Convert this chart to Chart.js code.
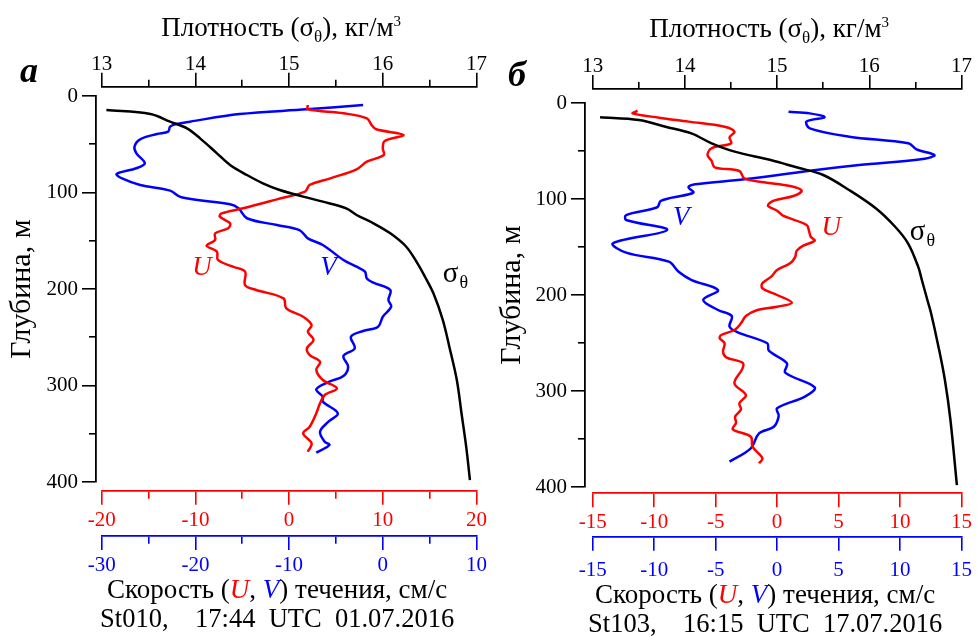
<!DOCTYPE html>
<html><head><meta charset="utf-8">
<script src="https://cdn.jsdelivr.net/npm/chart.js@4/dist/chart.umd.min.js"></script>
<style>
html,body{margin:0;padding:0;background:#fff;}
#wrap{position:relative;width:979px;height:637px;overflow:hidden;}
canvas{position:absolute;top:0;}
</style></head><body>
<div id="wrap">
<canvas id="cA" width="490" height="637" style="left:0px"></canvas>
<canvas id="cB" width="489" height="637" style="left:490px"></canvas>
</div>
<script>
// ---------------- DATA: panel "а" (St010) ----------------
const aSigmaDepth = [14.5, 18.7, 26.6, 33.5, 43.9, 59.4, 71.5, 81.9, 90.5, 97.4, 104.3, 109.5, 116.4, 123.3, 131.9, 142.3, 156.2, 173.4, 187.3, 204.5, 232, 259.8, 294.3, 328.8, 363.4, 398];
const aSigma      = [13.05, 13.52, 13.73, 13.91, 14.05, 14.23, 14.37, 14.55, 14.72, 14.90, 15.15, 15.36, 15.61, 15.72, 15.90, 16.08, 16.25, 16.37, 16.45, 16.54, 16.64, 16.71, 16.79, 16.84, 16.89, 16.93];

const aUDepth = [9.3, 13.8, 17.9, 23.1, 30, 34.5, 40.4, 46.6, 54.2, 61.1, 68.1, 76, 85.3, 92.2, 99.1, 107.1, 116.4, 121.6, 125, 131.9, 137.1, 142.3, 149.2, 155.1, 161.3, 169.9, 176.9, 182, 195.9, 201, 209.7, 220, 228.7, 237.3, 244.2, 252.8, 261.5, 268.4, 275.3, 284, 294.3, 303, 309.8, 318.5, 328.8, 342.7, 349.6, 360, 368.6];
const aU      = [2.0, 2.0, 5.8, 8.3, 8.8, 9.3, 12.2, 10.2, 10.0, 10.1, 8.3, 7.2, 4.4, 2.2, 1.7, -1.3, -4.9, -7.2, -7.4, -6.3, -6.5, -7.9, -7.9, -8.8, -7.7, -7.6, -6.0, -4.7, -4.7, -3.5, -0.6, -0.3, 1.5, 2.4, 2.0, 2.6, 1.9, 2.2, 3.3, 2.9, 3.6, 5.1, 3.8, 3.3, 2.9, 2.2, 1.5, 2.4, 2.0];

const aVDepth = [9.3, 13.8, 18.7, 26.6, 29, 31.8, 37, 39.4, 44.9, 52.5, 59.4, 69.7, 74.9, 80.8, 86, 92.2, 98.1, 105, 112.2, 116.4, 126.7, 133.7, 138.9, 147.5, 154.4, 169.9, 176.9, 182, 189, 193.5, 201, 211.4, 218.3, 228.7, 239.1, 243.5, 249.4, 261.5, 269.4, 280.5, 290.2, 296, 304, 311.6, 316.8, 328.8, 337.5, 347.9, 358.2, 361.7, 369.6];
const aV      = [-2.1, -8.1, -15.3, -20.6, -22.0, -22.7, -22.9, -24.1, -25.9, -26.5, -26.3, -25.4, -26.3, -28.4, -27.7, -25.9, -22.7, -21.5, -16.3, -15.4, -14.5, -11.3, -8.9, -8.0, -6.4, -4.2, -2.8, -1.9, -1.7, -1.0, 0.8, 0.6, 0.9, 0.0, -0.5, -2.1, -3.4, -3.0, -4.2, -3.7, -4.2, -5.7, -7.1, -6.4, -6.4, -4.8, -5.8, -6.7, -6.2, -5.7, -7.1];

// ---------------- DATA: panel "б" (St103) ----------------
const bSigmaDepth = [14.9, 17.7, 24.7, 31.6, 42, 50.7, 59.4, 67, 75, 90.6, 109.7, 128.9, 146.1, 170.5, 184.4, 205.2, 219, 253.8, 288.5, 330.2, 398];
const bSigma      = [13.08, 13.5, 13.79, 14.07, 14.29, 14.54, 14.93, 15.21, 15.5, 15.78, 16.07, 16.28, 16.42, 16.53, 16.57, 16.63, 16.67, 16.75, 16.82, 16.88, 16.95];

const bUDepth = [8.3, 10.8, 15.3, 19.4, 24.7, 29.9, 35.8, 42, 47.2, 54.2, 60.1, 67, 70.8, 78.5, 82.6, 86.5, 91.3, 96.9, 101.7, 107, 112.2, 117.7, 127.1, 134, 139.3, 143.4, 148.6, 153.8, 160.8, 167, 174, 180.9, 187.8, 193, 200, 208, 212.2, 215.6, 221.9, 229.5, 236.5, 241.7, 245.1, 250.3, 259, 264.9, 270.5, 276.4, 292, 304.2, 312.8, 319.1, 326.8, 333, 340, 347.6, 358, 370.1, 375.3];
const bU      = [-11.35, -11.75, -9.6, -7.2, -4.27, -3.47, -3.87, -3.74, -5.34, -5.66, -5.34, -5.07, -3.07, -2.67, -1.07, 1.06, 2.0, 1.33, -0.27, -0.75, 0.0, 0.53, 2.4, 2.61, 2.74, 3.06, 2.13, 1.6, 1.46, 1.06, 0.0, -0.48, -1.2, -1.2, 0.0, 1.2, 0.0, -1.6, -2.54, -2.94, -3.47, -4.54, -4.67, -4.27, -4.4, -4.14, -2.81, -2.81, -3.47, -2.54, -3.07, -2.94, -3.42, -3.34, -3.6, -2.14, -2.0, -1.2, -1.47];

const bVDepth = [9.1, 10.8, 14.9, 19.4, 26.4, 35.1, 42, 48.3, 54.2, 58, 64.6, 70.5, 79.5, 84.7, 87.8, 93.4, 98.6, 102.1, 108.6, 116.7, 121.9, 132.3, 146.1, 155.9, 165.3, 175.7, 184.4, 194.8, 205.2, 215.6, 221.9, 233, 238.9, 250.3, 258, 271.2, 280.9, 296.2, 305.9, 318, 326, 337.2, 344.1, 359.7, 373.6];
const bV      = [0.93, 2.66, 3.86, 2.4, 2.66, 5.87, 10.67, 11.34, 12.8, 12.0, 6.67, 2.66, -2.67, -6.67, -7.21, -6.81, -8.55, -9.48, -9.75, -12.28, -12.28, -8.95, -13.35, -12.28, -8.81, -8.01, -6.95, -4.81, -6.01, -4.81, -3.69, -3.87, -3.2, -0.8, -0.67, 0.8, 0.66, 3.06, 2.26, 0.0, 0.13, -0.27, -1.47, -2.14, -3.87];

// ---------------- AXES / TEXT ----------------
const densityRange = [13, 17];
const depthRange = [0, 400];
const aURange = [-20, 20], aVRange = [-30, 10];
const bURange = [-15, 15], bVRange = [-15, 15];
const densityTitle = ['Плотность (σ', 'θ', '), кг/м', '3'];
const depthTitle = 'Глубина, м';
const speedTitle = ['Скорость (', 'U', ', ', 'V', ') течения, см/с'];
const aStation = 'St010,    17:44  UTC  01.07.2016';
const bStation = 'St103,    16:15  UTC  17.07.2016';

const FONT = "'Liberation Serif','Times New Roman',serif";
const RED = '#ff0000', BLUE = '#0000ff', BLACK = '#000000';

function pts(depths, vals) { return depths.map((d, i) => ({x: vals[i], y: d})); }
const near = (v, m) => Math.abs(v / m - Math.round(v / m)) < 1e-6;

function gridOpts(color, isMajor, tl, minor, outerFirst) {
  return {
    display: true, drawOnChartArea: false, drawTicks: true, tickLength: tl,
    color: color, tickColor: color, tickWidth: 1.6, lineWidth: 1.6,
    tickBorderDash: c => (c.tick && !isMajor(c.tick.value)) ? [minor, 300] : [],
    tickBorderDashOffset: c => (c.tick && !isMajor(c.tick.value) && outerFirst) ? -(tl - minor) : 0
  };
}
function gapScale(pos, size) {
  const horiz = pos === 'top' || pos === 'bottom';
  return {
    type: 'linear', position: pos, weight: 0, min: 0, max: 1,
    grid: {display: false}, border: {display: false}, ticks: {display: false},
    afterFit: s => { if (horiz) s.height = size; else s.width = size; }
  };
}
function axisX(pos, range, step, labelEvery, color, weight, height, padding) {
  const isMajor = v => near(v, labelEvery);
  return {
    type: 'linear', position: pos, weight: weight, min: range[0], max: range[1],
    ticks: {stepSize: step, autoSkip: false, maxRotation: 0, color: color, padding: padding,
      font: {family: FONT, size: 21},
      callback: v => isMajor(v) ? String(Math.round(v * 10) / 10) : ''},
    grid: gridOpts(color, isMajor, 14, 7, pos === 'top'),
    border: {display: true, color: color, width: 1.8},
    afterFit: s => { s.height = height; }
  };
}

function segText(ctx, segs, cx, base) {
  let w = 0;
  segs.forEach(s => { ctx.font = s.font; s.w = ctx.measureText(s.t).width; w += s.w; });
  let x = cx - w / 2;
  ctx.textAlign = 'left'; ctx.textBaseline = 'alphabetic';
  segs.forEach(s => { ctx.font = s.font; ctx.fillStyle = s.color || BLACK; ctx.fillText(s.t, x, base + (s.dy || 0)); x += s.w; });
}

const annotPlugin = {
  id: 'annot',
  afterDraw(chart, args, o) {
    const ctx = chart.ctx, sc = chart.scales;
    ctx.save();
    const xs = sc.xS, xu = sc.xU, y = sc.y;
    // top title
    const tcx = (xs.left + xs.right) / 2 - 8;
    segText(ctx, [
      {t: densityTitle[0], font: `27px ${FONT}`},
      {t: densityTitle[1], font: `17px ${FONT}`, dy: 6},
      {t: densityTitle[2], font: `27px ${FONT}`},
      {t: densityTitle[3], font: `15px ${FONT}`, dy: -10}
    ], tcx, o.titleBase);
    // bottom title
    const bcx = (xu.left + xu.right) / 2 - 12;
    segText(ctx, [
      {t: speedTitle[0], font: `27px ${FONT}`},
      {t: speedTitle[1], font: `italic 27px ${FONT}`, color: RED},
      {t: speedTitle[2], font: `27px ${FONT}`},
      {t: speedTitle[3], font: `italic 27px ${FONT}`, color: BLUE},
      {t: speedTitle[4], font: `27px ${FONT}`}
    ], bcx, o.speedBase);
    segText(ctx, [{t: o.station, font: `26.5px ${FONT}`}], bcx, o.stationBase);
    // panel letter
    ctx.font = `bold italic 36px ${FONT}`; ctx.fillStyle = BLACK; ctx.textAlign = 'left';
    ctx.fillText(o.letter, o.letterX, o.letterBase);
    // in-plot labels (placed with data coordinates)
    ctx.textAlign = 'center'; ctx.textBaseline = 'middle';
    ctx.font = `italic 27px ${FONT}`;
    ctx.fillStyle = RED;
    ctx.fillText('U', xu.getPixelForValue(o.uLab[0]), y.getPixelForValue(o.uLab[1]));
    ctx.fillStyle = BLUE;
    ctx.fillText('V', sc.xV.getPixelForValue(o.vLab[0]), y.getPixelForValue(o.vLab[1]));
    ctx.fillStyle = BLACK;
    const sx = xs.getPixelForValue(o.sLab[0]), sy = y.getPixelForValue(o.sLab[1]);
    ctx.font = `29px ${FONT}`; ctx.textAlign = 'left'; ctx.textBaseline = 'alphabetic';
    ctx.fillText('σ', sx, sy);
    const sw = ctx.measureText('σ').width;
    ctx.font = `18px ${FONT}`;
    ctx.fillText('θ', sx + sw + 1, sy + 6);
    ctx.restore();
  }
};

function makeChart(id, cfg) {
  const ds = (data, axis, color) => ({
    data: data, xAxisID: axis, yAxisID: 'y', showLine: true, borderColor: color,
    backgroundColor: color, borderWidth: 2.5, pointRadius: 0, pointHoverRadius: 0,
    tension: 0.35, fill: false
  });
  return new Chart(document.getElementById(id), {
    type: 'scatter',
    data: {datasets: [
      ds(pts(cfg.sigD, cfg.sig), 'xS', BLACK),
      ds(pts(cfg.uD, cfg.u), 'xU', RED),
      ds(pts(cfg.vD, cfg.v), 'xV', BLUE)
    ]},
    options: {
      responsive: false, maintainAspectRatio: false, animation: false,
      events: [],
      layout: {padding: cfg.pad},
      plugins: {legend: {display: false}, tooltip: {enabled: false}, annot: cfg.annot},
      scales: {
        y: {
          type: 'linear', position: 'left', weight: 1, reverse: true,
          min: depthRange[0], max: depthRange[1],
          ticks: {stepSize: 50, autoSkip: false, color: BLACK, padding: 4,
            font: {family: FONT, size: 21}, callback: v => near(v, 100) ? String(v) : ''},
          grid: gridOpts(BLACK, v => near(v, 100), 14, 7, true),
          border: {display: true, color: BLACK, width: 1.8},
          title: {display: true, text: depthTitle, color: BLACK, font: {family: FONT, size: 30}, padding: {top: 4}},
          afterFit: s => { s.width = cfg.yW; }
        },
        yGap: gapScale('left', cfg.gapL),
        xS: axisX('top', densityRange, 0.5, 1, BLACK, 1, 40, -4),
        xGapT: gapScale('top', cfg.gapT),
        xU: axisX('bottom', cfg.uR, 5, cfg.uLabEvery, RED, 1, cfg.uH, 3),
        xV: axisX('bottom', cfg.vR, 5, cfg.vLabEvery, BLUE, 2, 40, cfg.vPad),
        xGapB: gapScale('bottom', cfg.gapB)
      }
    },
    plugins: [annotPlugin]
  });
}

makeChart('cA', {
  sigD: aSigmaDepth, sig: aSigma, uD: aUDepth, u: aU, vD: aVDepth, v: aV,
  uR: aURange, vR: aVRange, uLabEvery: 10, vLabEvery: 10,
  pad: {left: 0, top: 46.7, right: 13.3, bottom: 61},
  yW: 96, gapL: 5.7, gapT: 9.3, gapB: 8.7, uH: 45.3, vPad: 3,
  annot: {titleBase: 36, speedBase: 598, stationBase: 627, station: aStation,
    letter: 'а', letterX: 20, letterBase: 82,
    uLab: [-9.3, 178.5], vLab: [-5.8, 178.5], sLab: [16.64, 193]}
});
makeChart('cB', {
  sigD: bSigmaDepth, sig: bSigma, uD: bUDepth, u: bU, vD: bVDepth, v: bV,
  uR: bURange, vR: bVRange, uLabEvery: 5, vLabEvery: 5,
  pad: {left: 0, top: 49, right: 11.7, bottom: 60.3},
  yW: 95, gapL: 7.7, gapT: 14, gapB: 6.3, uH: 43.4, vPad: 7,
  annot: {titleBase: 37, speedBase: 603, stationBase: 632, station: bStation,
    letter: 'б', letterX: 18, letterBase: 86,
    uLab: [4.4, 130], vLab: [-7.8, 120], sLab: [16.44, 143]}
});
</script>
</body></html>
